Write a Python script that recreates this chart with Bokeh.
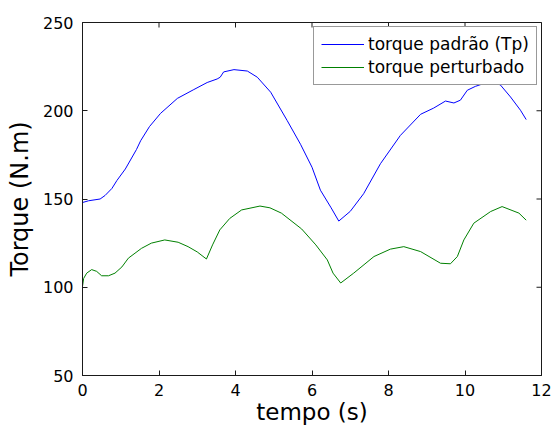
import math
from bokeh.plotting import figure
from bokeh.models import Range1d, SingleIntervalTicker, Legend, LegendItem
from bokeh.embed import file_html
from bokeh.resources import INLINE

# Data
t_padrao = [0.00, 0.16, 0.46, 0.59, 0.77, 0.90, 1.12, 1.41, 1.52, 1.75, 2.04, 2.48, 2.91,
            3.26, 3.52, 3.60, 3.69, 3.96, 4.31, 4.57, 4.92, 5.35, 5.70, 6.00, 6.22, 6.50,
            6.70, 7.00, 7.35, 7.79, 8.31, 8.84, 9.18, 9.49, 9.71, 9.88, 10.06, 10.27, 10.50,
            10.75, 10.93, 11.19, 11.45, 11.60]
torque_padrao = [148, 149, 150, 152, 156, 160.5, 167, 178, 183, 191, 198.5, 207, 212,
                 216, 218, 219, 222, 223.3, 222.5, 219, 210.5, 194.5, 181, 168, 155, 145,
                 137.5, 143, 153, 170, 186, 198, 201.5, 205.5, 204.4, 206, 211.6, 213.8, 215.5,
                 216.5, 214.5, 207.8, 200.3, 195]

t_pert = [0.00, 0.03, 0.11, 0.24, 0.37, 0.50, 0.68, 0.85, 1.03, 1.20, 1.54, 1.80, 2.15,
          2.50, 2.76, 3.00, 3.24, 3.40, 3.59, 3.85, 4.16, 4.64, 4.90, 5.20, 5.73, 6.10,
          6.40, 6.55, 6.75, 7.09, 7.62, 8.05, 8.40, 8.84, 9.36, 9.62, 9.80, 9.97, 10.23,
          10.67, 10.97, 11.41, 11.60]
torque_pert = [100.5, 105, 108, 110, 109, 106.5, 106.5, 108, 111.5, 116.5, 122, 125, 126.8,
               125.5, 123, 120, 116, 124, 132.5, 139, 143.8, 146, 145, 142, 133, 124,
               115.5, 108, 102.4, 108, 117.4, 121.6, 123, 120.2, 113.6, 113.3, 117.4, 126.8, 136.3,
               142.9, 145.7, 142, 138]

x_min, x_max = 0, 12
y_min, y_max = 50, 250
x_tick_values = [0, 2, 4, 6, 8, 10, 12]
y_tick_values = [50, 100, 150, 200, 250]
labels = ["torque padrão (Tp)", "torque perturbado"]

FONT = "DejaVu Sans"
AXC = "#1a1a1a"

p = figure(width=554, height=427, output_backend="svg", toolbar_location=None,
           x_range=Range1d(x_min, x_max), y_range=Range1d(y_min, y_max),
           min_border_left=82, min_border_top=22, min_border_right=13, min_border_bottom=51,
           background_fill_color="white", border_fill_color="white")
p.xgrid.visible = False
p.ygrid.visible = False
p.outline_line_color = AXC

l1 = p.line(t_padrao, torque_padrao, line_color="#0000ff", line_width=1)
l2 = p.line(t_pert, torque_pert, line_color="#008000", line_width=1)

# mirrored tick marks on the top and right edges (clipped half-dashes)
p.scatter(x_tick_values, [y_max] * len(x_tick_values), marker="dash", size=10,
          angle=math.pi / 2, line_color=AXC, line_width=1)
p.scatter([x_max] * len(y_tick_values), y_tick_values, marker="dash", size=10,
          line_color=AXC, line_width=1)

def style_axis(ax):
    ax.axis_line_color = AXC
    ax.major_tick_line_color = AXC
    ax.major_tick_in = 5
    ax.major_tick_out = 0
    ax.minor_tick_line_color = None
    ax.major_label_text_font = FONT
    ax.major_label_text_color = "black"
    ax.major_label_text_font_size = "16px"
    ax.axis_label_text_font = FONT
    ax.axis_label_text_font_style = "normal"
    ax.axis_label_text_color = "black"

p.xaxis.ticker = SingleIntervalTicker(interval=2)
p.yaxis.ticker = SingleIntervalTicker(interval=50)
for ax in p.xaxis:
    style_axis(ax)
    ax.major_label_standoff = 4
    ax.axis_label = "tempo (s)"
    ax.axis_label_text_font_size = "23px"
    ax.axis_label_standoff = 0
for ax in p.yaxis:
    style_axis(ax)
    ax.major_label_standoff = 5
    ax.axis_label = "Torque (N.m)"
    ax.axis_label_text_font_size = "24px"
    ax.axis_label_standoff = 6

legend = Legend(items=[LegendItem(label=labels[0], renderers=[l1]),
                       LegendItem(label=labels[1], renderers=[l2])],
                location=(231, 290), orientation="vertical",
                label_text_font=FONT, label_text_font_size="17px", label_text_color="black",
                glyph_width=43, glyph_height=20, label_height=20, label_standoff=4,
                padding=7, spacing=3, margin=0,
                border_line_color="#333333", border_line_width=1,
                background_fill_color="white", background_fill_alpha=1.0)
p.add_layout(legend, "center")

open("out.html", "w").write(file_html(p, INLINE))
